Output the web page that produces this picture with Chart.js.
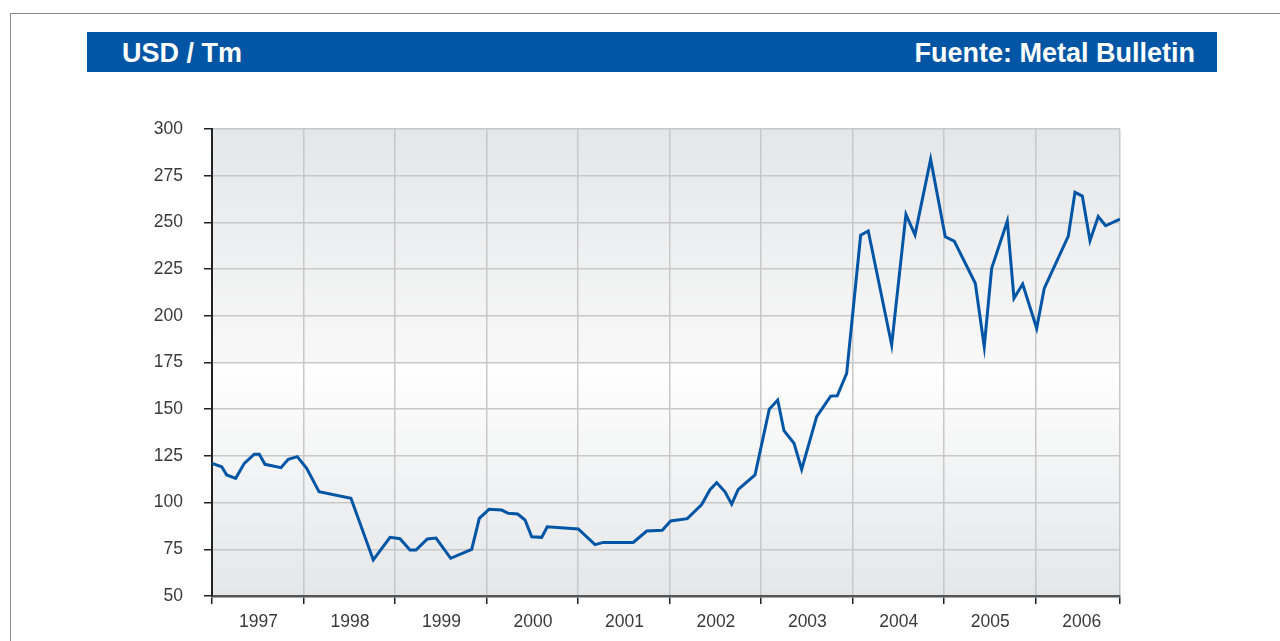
<!DOCTYPE html>
<html lang="es">
<head>
    <meta charset="UTF-8">
    <title>USD / Tm - Metal Bulletin</title>
    <script src="https://cdn.jsdelivr.net/npm/chart.js"></script>
    <style>
        body {
            margin: 0;
            padding: 0;
            width: 1280px;
            height: 641px;
            overflow: hidden;
            background: #fff;
            font-family: "Liberation Sans", Arial, sans-serif;
            position: relative;
        }

        .marco {
            position: absolute;
            left: 10px;
            top: 13px;
            width: 1400px;
            height: 800px;
            border-top: 1px solid #8a8a8a;
            border-left: 1px solid #8a8a8a;
        }

        .cabecera {
            position: absolute;
            left: 87px;
            top: 32px;
            width: 1130px;
            height: 40px;
            background-color: #0056a4;
            color: #fff;
            font-weight: bold;
            font-size: 27px;
        }

        .cabecera span {
            position: absolute;
            top: 6px;
            line-height: 31px;
        }

        #grafico {
            position: absolute;
            left: 0;
            top: 0;
        }
    </style>
</head>
<body>

<div class="marco"></div>
<div class="cabecera">
    <span style="left: 35px;">USD / Tm</span>
    <span style="right: 22px;">Fuente: Metal Bulletin</span>
</div>
<canvas id="grafico" width="1280" height="641"></canvas>

<script>
    // fecha en años decimales y precio en USD/Tm
    const fechas = [
        1997.000, 1997.106, 1997.161, 1997.259, 1997.353, 1997.462, 1997.517, 1997.579,
        1997.754, 1997.834, 1997.932, 1998.035, 1998.170, 1998.519, 1998.763, 1998.946,
        1999.055, 1999.164, 1999.230, 1999.354, 1999.449, 1999.609, 1999.839, 1999.922,
        2000.028, 2000.167, 2000.239, 2000.342, 2000.422, 2000.495, 2000.604, 2000.665,
        2001.004, 2001.187, 2001.277, 2001.605, 2001.752, 2001.922, 2002.014, 2002.196,
        2002.353, 2002.444, 2002.517, 2002.608, 2002.681, 2002.753, 2002.936, 2003.092,
        2003.184, 2003.253, 2003.362, 2003.446, 2003.610, 2003.763, 2003.835, 2003.938,
        2004.091, 2004.174, 2004.430, 2004.586, 2004.685, 2004.856, 2005.016, 2005.114,
        2005.344, 2005.442, 2005.523, 2005.694, 2005.767, 2005.862, 2006.015, 2006.098,
        2006.361, 2006.434, 2006.514, 2006.598, 2006.688, 2006.769, 2006.926
    ];

    const precios = [
        121.0, 119.2, 114.8, 113.0, 121.0, 125.9, 125.9, 120.5,
        118.7, 123.2, 124.6, 118.4, 105.8, 102.3, 69.3, 81.4,
        80.7, 74.6, 74.6, 80.5, 81.0, 70.2, 75.0, 91.6,
        96.4, 96.0, 94.3, 93.9, 90.7, 81.7, 81.4, 87.1,
        85.9, 77.5, 78.7, 78.7, 84.8, 85.2, 90.2, 91.4,
        99.0, 106.9, 110.7, 105.8, 99.2, 107.1, 114.8, 150.0,
        154.9, 138.5, 131.8, 117.8, 146.0, 157.0, 157.2, 169.2,
        243.1, 245.4, 184.4, 254.3, 243.3, 283.8, 242.3, 240.0,
        217.4, 183.5, 225.4, 250.7, 209.4, 217.0, 193.3, 214.7,
        242.7, 266.1, 264.1, 240.2, 253.1, 248.2, 251.8
    ];

    const anios = [1997, 1998, 1999, 2000, 2001, 2002, 2003, 2004, 2005, 2006];
    const finSerie = 2006.926;
    const ejeY = { min: 50, max: 300, paso: 25 };

    const puntos = fechas.map((f, i) => ({ x: f, y: precios[i] }));

    // fondo degradado del área de trazado
    const fondoArea = {
        id: 'fondoArea',
        beforeDraw(chart) {
            const { ctx, chartArea: a } = chart;
            const g = ctx.createLinearGradient(0, a.top, 0, a.bottom);
            g.addColorStop(0, '#e5e6e8');
            g.addColorStop(0.499, '#f8f8f8');
            g.addColorStop(0.5, '#ffffff');
            g.addColorStop(1, '#e5e6e8');
            ctx.save();
            ctx.fillStyle = g;
            ctx.fillRect(a.left, a.top, a.right - a.left, a.bottom - a.top);
            ctx.restore();
        }
    };

    const fuente = { family: '"Liberation Sans", Arial, sans-serif', size: 17.5 };

    new Chart(document.getElementById('grafico'), {
        type: 'line',
        data: {
            datasets: [{
                data: puntos,
                borderColor: '#0055a5',
                borderWidth: 3,
                pointRadius: 0,
                tension: 0,
                fill: false
            }]
        },
        options: {
            responsive: false,
            animation: false,
            layout: { padding: { top: 129, right: 160, left: 0, bottom: 0 } },
            plugins: {
                legend: { display: false },
                tooltip: { enabled: false }
            },
            scales: {
                x: {
                    type: 'linear',
                    min: anios[0],
                    max: finSerie,
                    afterFit(scale) { scale.height = 45; },
                    afterBuildTicks(scale) {
                        scale.ticks = anios.map(v => ({ value: v })).concat([{ value: finSerie }]);
                    },
                    grid: {
                        color: '#c8c8c8',
                        lineWidth: 1.5,
                        tickColor: '#222',
                        tickLength: 8
                    },
                    border: { color: '#555', width: 2.5 },
                    ticks: {
                        autoSkip: false,
                        maxRotation: 0,
                        padding: 8,
                        labelOffset: 46.5,
                        color: '#3a3a3a',
                        font: fuente,
                        callback: v => anios.includes(v) ? String(v) : ''
                    }
                },
                y: {
                    min: ejeY.min,
                    max: ejeY.max,
                    afterFit(scale) { scale.width = 212; },
                    grid: {
                        color: '#c8c8c8',
                        lineWidth: 1.5,
                        tickColor: '#222',
                        tickLength: 8
                    },
                    border: { color: '#222', width: 2 },
                    ticks: {
                        stepSize: ejeY.paso,
                        padding: 21,
                        color: '#3a3a3a',
                        font: fuente
                    }
                }
            }
        },
        plugins: [fondoArea]
    });
</script>
</body>
</html>
